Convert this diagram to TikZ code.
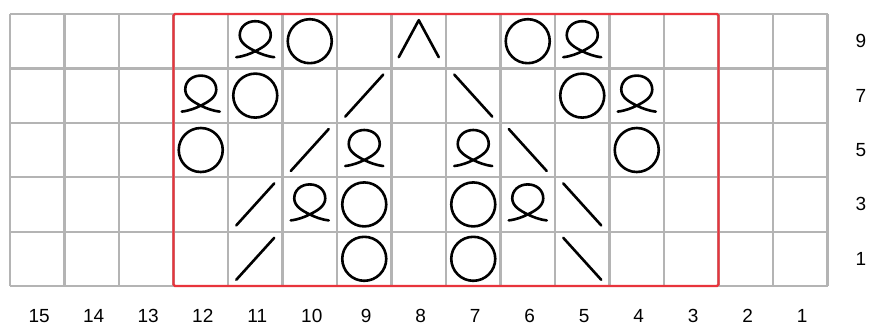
\documentclass[tikz,border=0pt]{standalone}
\usepackage{fontspec}
\setmainfont{Liberation Sans}
\definecolor{gridgray}{HTML}{B4B4B4}
\definecolor{boxred}{HTML}{E8343C}
\tikzset{
  loopst/.pic={\draw[sym] (-19,16) .. controls (-11,15) and (-5,12.5) .. (0,10)
      .. controls (7,6.5) and (15.5,2) .. (15.5,-6)
      .. controls (15.5,-14.5) and (8.5,-20) .. (0,-20)
      .. controls (-8.5,-20) and (-15.5,-14.5) .. (-15.5,-6)
      .. controls (-15.5,2) and (-7,6.5) .. (0,10)
      .. controls (5,12.5) and (11,15) .. (19,16);},
  circst/.pic={\draw[sym] (0,0) circle[radius=22pt];},
  slashst/.pic={\draw[sym] (-19,21) -- (19,-21);},
  bslashst/.pic={\draw[sym] (-19,-21) -- (19,21);},
  decst/.pic={\draw[sym] (-20,16) -- (0,-21) -- (20,16);}
}
\begin{document}
\begin{tikzpicture}[x=1pt,y=-1pt,
  gridline/.style={draw=gridgray,line width=2.2pt},
  redbox/.style={draw=boxred,line width=2.4pt},
  sym/.style={draw=black,line width=2.6pt,line cap=round,line join=round},
  lbl/.style={font=\fontsize{19}{19}\selectfont,text=black,inner sep=0pt}]
\useasboundingbox (0,0) rectangle (872,325);
\fill[white] (0,0) rectangle (872,325);
% grid
\foreach \i in {0,...,15}
  \draw[gridline] ({10+\i*54.5},14) -- ({10+\i*54.5},286);
\foreach \j in {0,...,5}
  \draw[gridline] (10,{14+\j*54.4}) -- (827.5,{14+\j*54.4});
% red frame
\draw[redbox,rounded corners=1.5pt] (173.5,14) rectangle (718.5,286);
% symbols
\foreach \c/\r in {11/9,5/9,12/7,4/7,9/5,7/5,10/3,6/3}
  \pic at ({10+(15.5-\c)*54.5},{14+(0.5+(9-\r)/2)*54.4}) {loopst};
\foreach \c/\r in {10/9,6/9,11/7,5/7,12/5,4/5,9/3,7/3,9/1,7/1}
  \pic at ({10+(15.5-\c)*54.5},{14+(0.5+(9-\r)/2)*54.4}) {circst};
\foreach \c/\r in {9/7,10/5,11/3,11/1}
  \pic at ({10+(15.5-\c)*54.5},{14+(0.5+(9-\r)/2)*54.4}) {slashst};
\foreach \c/\r in {7/7,6/5,5/3,5/1}
  \pic at ({10+(15.5-\c)*54.5},{14+(0.5+(9-\r)/2)*54.4}) {bslashst};
\pic at ({10+(15.5-8)*54.5},{14+0.5*54.4}) {decst};
% labels
\foreach \r in {9,7,5,3,1}
  \node[lbl] (rl\r) at (861,{14+(0.5+(9-\r)/2)*54.4}) {\r};
\foreach \c in {1,...,15}
  \node[lbl] (cl\c) at ({12+(15.5-\c)*54.5},316) {\c};
\end{tikzpicture}
\end{document}
